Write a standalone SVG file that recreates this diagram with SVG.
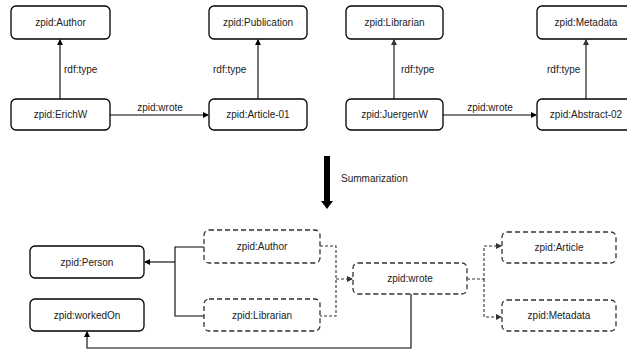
<svg xmlns="http://www.w3.org/2000/svg" width="627" height="350" viewBox="0 0 627 350">
<defs>
<marker id="ah" markerWidth="6" markerHeight="6" refX="5" refY="3" orient="auto" markerUnits="userSpaceOnUse"><path d="M0,0 L6,3 L0,6 Z" fill="#000"/></marker>
<marker id="ahg" markerWidth="6" markerHeight="6" refX="5" refY="3" orient="auto" markerUnits="userSpaceOnUse"><path d="M0,0 L6,3 L0,6 Z" fill="#333"/></marker>
</defs>
<style>
.n{fill:#fff;stroke:#000;stroke-width:1.3}
.d{fill:#fff;stroke:#333;stroke-width:1.3;stroke-dasharray:5,3}
.t{font-family:"Liberation Sans",Arial,sans-serif;font-size:10px;fill:#222;text-anchor:middle}
.l{font-family:"Liberation Sans",Arial,sans-serif;font-size:10px;fill:#222}
.e{fill:none;stroke:#000;stroke-width:1.1}
.eg{fill:none;stroke:#555;stroke-width:1.6}
.ed{fill:none;stroke:#333;stroke-width:1.1;stroke-dasharray:3,2}
</style>
<g id="edges">
<path class="e" d="M60,99 V40" marker-end="url(#ah)"/>
<path class="e" d="M258,99 V40" marker-end="url(#ah)"/>
<path class="eg" d="M394,99 V40" marker-end="url(#ahg)"/>
<path class="eg" d="M586,99 V40" marker-end="url(#ahg)"/>
<path class="e" d="M110,115 H208" marker-end="url(#ah)"/>
<path class="e" d="M443,115 H536" marker-end="url(#ah)"/>
<text class="l" x="64" y="73">rdf:type</text>
<text class="l" x="213" y="73">rdf:type</text>
<text class="l" x="401" y="73">rdf:type</text>
<text class="l" x="547" y="73">rdf:type</text>
<text class="t" x="160" y="111">zpid:wrote</text>
<text class="t" x="490" y="111">zpid:wrote</text>
<path d="M324,156 H330 V201 H333 L327,209 L321,201 H324 Z" fill="#000"/>
<text class="l" x="341" y="182" font-size="10.5">Summarization</text>
<path class="e" d="M204,247 H175 V316 H204"/>
<path class="e" d="M175,262 H145" marker-end="url(#ah)"/>
<path class="ed" d="M320,246 H336 V316 H320"/>
<path class="ed" d="M336,279 H352" marker-end="url(#ahg)"/>
<path class="ed" d="M467,279 H484 V246 H501" marker-end="url(#ahg)"/>
<path class="ed" d="M484,279 V317 H501" marker-end="url(#ahg)"/>
<path class="e" d="M411,294 V348 H87 V332" marker-end="url(#ah)"/>
</g>
<g id="author"><rect class="n" x="11" y="6" width="99" height="33" rx="5"/><text class="t" x="60.5" y="26">zpid:Author</text></g>
<g id="publication"><rect class="n" x="209" y="6" width="98" height="33" rx="5"/><text class="t" x="258" y="26">zpid:Publication</text></g>
<g id="librarian"><rect class="n" x="346" y="6" width="97" height="33" rx="5"/><text class="t" x="394.5" y="26">zpid:Librarian</text></g>
<g id="metadata"><rect class="n" x="537" y="6" width="98" height="33" rx="5"/><text class="t" x="586" y="26">zpid:Metadata</text></g>
<g id="erichw"><rect class="n" x="11" y="99" width="99" height="31" rx="5"/><text class="t" x="60.5" y="118">zpid:ErichW</text></g>
<g id="article01"><rect class="n" x="209" y="99" width="98" height="31" rx="5"/><text class="t" x="258" y="118">zpid:Article-01</text></g>
<g id="juergenw"><rect class="n" x="346" y="99" width="97" height="31" rx="5"/><text class="t" x="394.5" y="118">zpid:JuergenW</text></g>
<g id="abstract02"><rect class="n" x="537" y="99" width="98" height="31" rx="5"/><text class="t" x="586" y="118">zpid:Abstract-02</text></g>
<g id="person"><rect class="n" x="30" y="246" width="114" height="32" rx="5"/><text class="t" x="87" y="265.5">zpid:Person</text></g>
<g id="workedon"><rect class="n" x="30" y="299" width="114" height="32" rx="5"/><text class="t" x="87" y="318.5">zpid:workedOn</text></g>
<g id="s-author"><rect class="d" x="204" y="230" width="116" height="33" rx="5"/><text class="t" x="262" y="250">zpid:Author</text></g>
<g id="s-librarian"><rect class="d" x="204" y="299" width="116" height="32" rx="5"/><text class="t" x="262" y="318.5">zpid:Librarian</text></g>
<g id="s-wrote"><rect class="d" x="353" y="263" width="114" height="31" rx="5"/><text class="t" x="410" y="282">zpid:wrote</text></g>
<g id="s-article"><rect class="d" x="502" y="232" width="114" height="31" rx="5"/><text class="t" x="559" y="251">zpid:Article</text></g>
<g id="s-metadata"><rect class="d" x="502" y="300" width="114" height="31" rx="5"/><text class="t" x="559" y="319">zpid:Metadata</text></g>
</svg>
